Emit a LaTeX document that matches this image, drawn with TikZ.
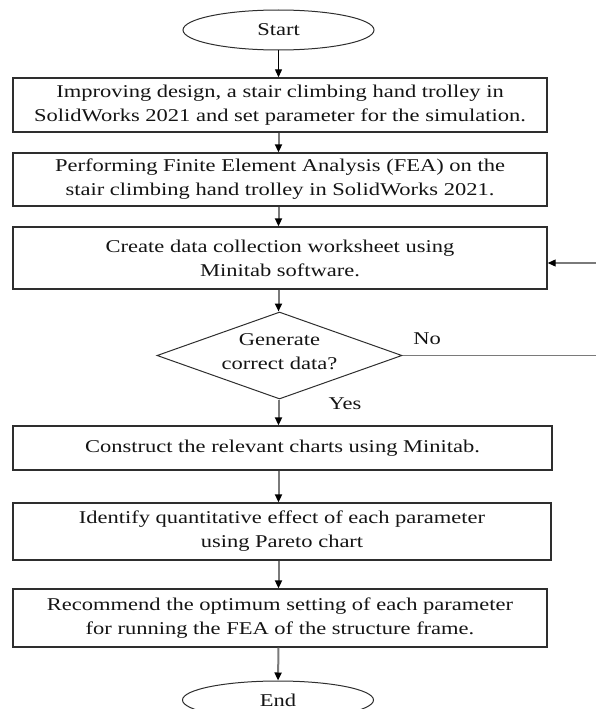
\documentclass[tikz,border=0pt]{standalone}
\usepackage{fontspec}
\setmainfont{Liberation Serif}[FakeStretch=1.25]
\usetikzlibrary{shapes.geometric,arrows.meta}
\definecolor{boxc}{HTML}{2E2E2E}
\definecolor{txt}{HTML}{141414}
\definecolor{arrc}{HTML}{7A7A7A}
\begin{document}
\begin{tikzpicture}[x=1pt,y=-1pt,
  font=\fontsize{18}{24}\selectfont,
  stepbox/.style={draw=boxc, line width=1.4pt, inner sep=0pt, text=txt, align=center, minimum height=#1},
  oval/.style={draw=boxc, line width=1pt, ellipse, inner sep=0pt, minimum width=191pt, minimum height=40pt, text=txt},
  decision/.style={draw=boxc, line width=1pt, diamond, inner sep=0pt, minimum width=245pt, minimum height=87pt},
  arr/.style={draw=arrc, line width=2pt, -{Triangle[width=7pt,length=8pt,color=black]}},
  thinarr/.style={draw=black, line width=1.2pt, -{Triangle[width=7pt,length=8pt,color=black]}},
  loopline/.style={draw=arrc, line width=1.2pt},
  lbl/.style={text=txt, inner sep=0pt}
]
\useasboundingbox (0,0) rectangle (595,709);

\node[oval] (start) at (278.5,30) {Start};
\node[stepbox=54pt, minimum width=534pt] (b1) at (280,105)
  {Improving design, a stair climbing hand trolley in\\SolidWorks 2021 and set parameter for the simulation.};
\node[stepbox=53pt, minimum width=534pt] (b2) at (280,179.5)
  {Performing Finite Element Analysis (FEA) on the\\stair climbing hand trolley in SolidWorks 2021.};
\node[stepbox=62pt, minimum width=534pt] (b3) at (280,258)
  {Create data collection worksheet using\\Minitab software.};
\node[decision] (dec) at (279.5,355.5) {};
\node[lbl, align=center] (dectext) at (279.5,352) {Generate\\correct data?};
\node[stepbox=44pt, minimum width=539pt] (b4) at (282.5,448)
  {Construct the relevant charts using Minitab.};
\node[stepbox=57pt, minimum width=538pt] (b5) at (282,531.5)
  {Identify quantitative effect of each parameter\\using Pareto chart};
\node[stepbox=58pt, minimum width=534pt] (b6) at (280,618)
  {Recommend the optimum setting of each parameter\\for running the FEA of the structure frame.};
\node[oval, minimum height=38pt] (end) at (278,700) {End};

\node[lbl] (no) at (427,339) {No};
\node[lbl] (yes) at (345,404) {Yes};

\coordinate (r1) at (610,355.5);
\coordinate (r2) at (610,263);

\draw[thinarr] (start.south) -- (b1.north -| start);
\draw[arr] (b1.south -| start) -- (b2.north -| start);
\draw[arr] (b2.south -| start) -- (b3.north -| start);
\draw[arr] (b3.south -| start) -- (dec.north -| start);
\draw[arr] (dec.south -| start) -- (b4.north -| start);
\draw[arr] (b4.south -| start) -- (b5.north -| start);
\draw[arr] (b5.south -| start) -- (b6.north -| start);
\draw[arr] (b6.south -| start) -- (end.north);

\draw[loopline] (dec.east) -- (r1) -- (r2);
\draw[loopline, -{Triangle[width=7pt,length=8pt,color=black]}] (r2) -- (b3.east |- r2);
\end{tikzpicture}
\end{document}
